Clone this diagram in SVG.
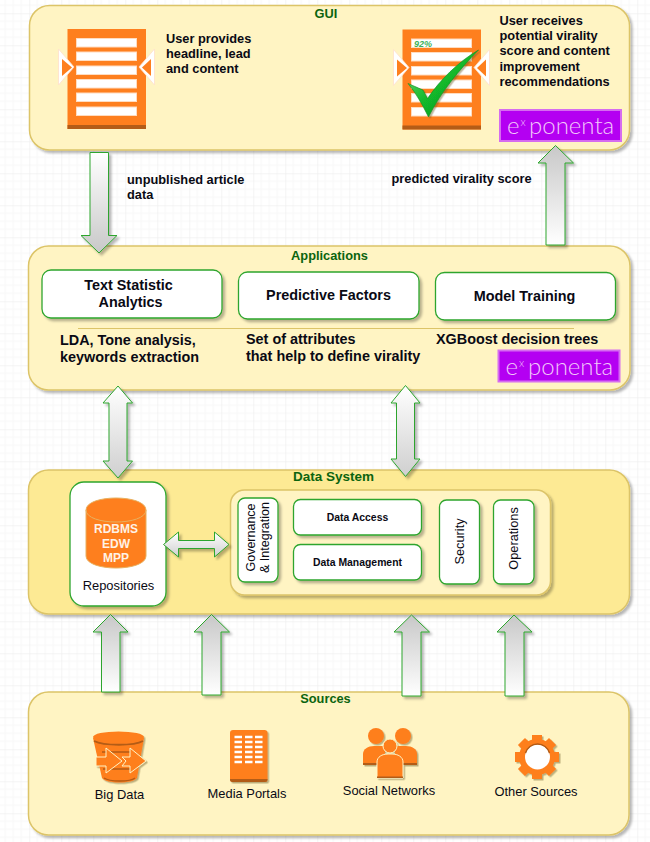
<svg xmlns="http://www.w3.org/2000/svg" xmlns:xlink="http://www.w3.org/1999/xlink" width="650" height="842" viewBox="0 0 650 842">
<style>
text{font-family:"Liberation Sans",Arial,sans-serif;fill:#0a0a14}
.title{font-size:12.8px;font-weight:bold;fill:#0b640f;text-anchor:middle}
.b12{font-size:12.8px;font-weight:bold}
.b14{font-size:14.4px;font-weight:bold}
.b10{font-size:10.4px;font-weight:bold;text-anchor:middle}
.c{text-anchor:middle}
.n13{font-size:12.9px;text-anchor:middle}
.panel{stroke:#dcc468;stroke-width:1.5;filter:url(#sh)}
.box{fill:#fff;stroke:#2ea52e;stroke-width:1.3;filter:url(#sh)}
.dn{fill:url(#gd);stroke:#2ea52e;stroke-width:1;filter:url(#sh)}
.up{fill:url(#gu);stroke:#2ea52e;stroke-width:1;filter:url(#sh)}
.h{fill:url(#gh);stroke:#2ea52e;stroke-width:1;filter:url(#sh)}
.bar{fill:#fff;stroke:#ffdcc0;stroke-width:1}
.or{fill:#fe7f1e}
.dk{fill:#b35c17}
.logo{fill:#b400f2;stroke:#d66cf0;stroke-width:2}
.lt{font-family:Lato,"Liberation Sans",sans-serif;font-weight:300;fill:#f2c8fa}
</style>
<defs>
<pattern id="grid" width="32" height="32" patternUnits="userSpaceOnUse" x="-2.7" y="13.3">
<path d="M8 0V32M16 0V32M24 0V32M0 8H32M0 16H32M0 24H32" stroke="#f7f7f7" stroke-width="1" fill="none"/>
<path d="M0 0V32M0 0H32" stroke="#e9e9e9" stroke-width="1" fill="none"/>
</pattern>
<filter id="sh" x="-10%" y="-10%" width="125%" height="125%"><feDropShadow dx="2.5" dy="2.5" stdDeviation="0.8" flood-color="#000" flood-opacity="0.28"/></filter>
<filter id="sh2" x="-10%" y="-10%" width="125%" height="125%"><feDropShadow dx="1.5" dy="1.5" stdDeviation="0.6" flood-color="#6b5a20" flood-opacity="0.45"/></filter>
<linearGradient id="gd" x1="0" y1="0" x2="0" y2="1"><stop offset="0" stop-color="#fff"/><stop offset="1" stop-color="#c8c8c8"/></linearGradient>
<linearGradient id="gu" x1="0" y1="1" x2="0" y2="0"><stop offset="0" stop-color="#fff"/><stop offset="1" stop-color="#c8c8c8"/></linearGradient>
<linearGradient id="gh" x1="0" y1="0" x2="0" y2="1"><stop offset="0" stop-color="#fff"/><stop offset="1" stop-color="#cfcfcf"/></linearGradient>
<linearGradient id="gc" x1="0" y1="0" x2="1" y2="1"><stop offset="0" stop-color="#7fe07f"/><stop offset="0.5" stop-color="#12b82a"/><stop offset="1" stop-color="#0a8a20"/></linearGradient>
<g id="doc">
<rect class="or" x="67.5" y="29" width="78.5" height="100"/>
<rect class="dk" x="67.5" y="125" width="78.5" height="4"/>
<rect class="bar" x="76.5" y="38.5" width="60" height="8.5"/>
<rect class="bar" x="76.5" y="52" width="60" height="8.5"/>
<rect class="bar" x="76.5" y="66" width="60" height="8.5"/>
<rect class="bar" x="76.5" y="79.5" width="60" height="8.5"/>
<rect class="bar" x="76.5" y="93" width="60" height="8.5"/>
<rect class="bar" x="76.5" y="107" width="60" height="8.5"/>
<path d="M58.5 49L74 67L58.5 85Z" fill="#fff" stroke="#ffe0cc" stroke-width="0.8"/>
<path d="M62 59V76L72 67.5Z" class="or"/>
<path d="M154.500 49L139 67L154.500 85Z" fill="#fff" stroke="#ffe0cc" stroke-width="0.8"/>
<path d="M151 59V76L142 67.500Z" class="or"/>
</g>
<g id="tooth"><rect class="or" x="532" y="735" width="10" height="8"/></g>
</defs>
<rect width="650" height="842" fill="#fff"/>
<rect width="650" height="842" fill="url(#grid)"/>

<g id="gui">
<rect class="panel" x="29.500" y="5.500" width="600" height="144.500" rx="20" fill="#fff4c3"/>
<text class="title" x="326" y="17.500">GUI</text>
<use xlink:href="#doc" href="#doc"/>
<text class="b12" x="166" y="43">User provides</text>
<text class="b12" x="166" y="58">headline, lead</text>
<text class="b12" x="166" y="73">and content</text>
<use xlink:href="#doc" href="#doc" x="335" y="0.500"/>
<text x="414" y="46.500" font-size="9" font-style="italic" font-weight="bold" style="fill:#3cb35a">92%</text>
<path d="M408 83.500L423 90L427.500 98.500C440 80 458 62 478.500 50C459 70 441 92 428.500 117C422 104 416 93 408 83.500Z" fill="url(#gc)" stroke="#0d8c22" stroke-width="0.6" filter="url(#sh2)"/>
<text class="b12" x="499.500" y="25">User receives</text>
<text class="b12" x="499.500" y="40">potential virality</text>
<text class="b12" x="499.500" y="55">score and content</text>
<text class="b12" x="499.500" y="71">improvement</text>
<text class="b12" x="499.500" y="86">recommendations</text>
<rect class="logo" x="500" y="110" width="121" height="31"/>
<text class="lt" x="507" y="134" font-size="24">e</text><text class="lt" x="520.500" y="126" font-size="11">x</text><text class="lt" x="529" y="134" font-size="24">ponenta</text>
</g>

<g id="applications">
<rect class="panel" x="28.500" y="246" width="601.500" height="144" rx="20" fill="#fff4c3"/>
<text class="title" x="329.500" y="259.500">Applications</text>
<rect class="box" x="42" y="270" width="180" height="48" rx="9"/>
<text class="b14 c" x="128.500" y="290">Text Statistic</text>
<text class="b14 c" x="130.500" y="307">Analytics</text>
<rect class="box" x="238.500" y="272" width="180.500" height="47" rx="9"/>
<text class="b14 c" x="328.500" y="300">Predictive Factors</text>
<rect class="box" x="435.500" y="272.500" width="180" height="47.500" rx="9"/>
<text class="b14 c" x="524.500" y="301">Model Training</text>
<path d="M78 328.500H574" stroke="#dcc468" stroke-width="1.200" fill="none"/>
<text class="b14" x="60" y="345">LDA, Tone analysis,</text>
<text class="b14" x="60" y="362">keywords extraction</text>
<text class="b14" x="246" y="344">Set of attributes</text>
<text class="b14" x="246" y="361">that help to define virality</text>
<text class="b14" x="436" y="344">XGBoost decision trees</text>
<rect class="logo" x="498.500" y="350.500" width="121" height="31"/>
<text class="lt" x="505.500" y="375" font-size="24">e</text><text class="lt" x="519" y="367" font-size="11">x</text><text class="lt" x="528" y="375" font-size="24">ponenta</text>
</g>

<g id="data-system">
<rect class="panel" x="28.500" y="470" width="601" height="144" rx="20" fill="#fdea94"/>
<text class="title" x="333.500" y="481" style="font-size:13.500px">Data System</text>
<g id="repositories">
<rect class="box" x="70" y="482" width="96" height="124" rx="14"/>
<path d="M86 510C86 494 146 494 146 510V556C146 572 86 572 86 556Z" fill="#fe7f1e" stroke="#e8b060" stroke-width="1"/>
<path d="M86 510C86 526 146 526 146 510" fill="none" stroke="#e8b060" stroke-width="1"/>
<text class="c" x="116" y="533" font-size="12" font-weight="bold" style="fill:#fff2e6">RDBMS</text>
<text class="c" x="116" y="548" font-size="12" font-weight="bold" style="fill:#fff2e6">EDW</text>
<text class="c" x="116" y="562" font-size="12" font-weight="bold" style="fill:#fff2e6">MPP</text>
<text class="n13" x="118.500" y="590">Repositories</text>
</g>
<g id="platform">
<rect class="panel" x="230.500" y="490" width="320" height="105" rx="14" fill="#fff4c3"/>
<rect class="box" x="238" y="498" width="40" height="84" rx="7"/>
<text class="c" font-size="12.500" transform="translate(254.500 537.500) rotate(-90)">Governance</text>
<text class="c" font-size="12.500" transform="translate(269 537.500) rotate(-90)">&amp; Integration</text>
<rect class="box" x="293.500" y="499.500" width="128" height="35.500" rx="7"/>
<text class="b10" x="357.500" y="521">Data Access</text>
<rect class="box" x="293.500" y="544.500" width="128" height="35.500" rx="7"/>
<text class="b10" x="357.500" y="566">Data Management</text>
<rect class="box" x="439.500" y="500" width="40" height="84" rx="7"/>
<text class="c" font-size="12.800" transform="translate(464 541.500) rotate(-90)">Security</text>
<rect class="box" x="493.500" y="500" width="40.500" height="84" rx="7"/>
<text class="c" font-size="12.800" transform="translate(518 538.500) rotate(-90)">Operations</text>
</g>
</g>

<g id="sources">
<rect class="panel" x="28.500" y="692" width="600.500" height="143" rx="20" fill="#fff4c3"/>
<text class="title" x="325.500" y="702.500">Sources</text>
<g id="big-data" filter="url(#sh2)">
<path d="M93 738L102 778C106 784 133 784 137 778L144 738Z" class="or"/>
<ellipse cx="118.500" cy="737" rx="25.500" ry="5.500" class="or"/>
<path d="M94 741C104 746 134 746 143 741" fill="none" stroke="#b35c17" stroke-width="1.800"/>
<path d="M102 752H132M103 769H134M104 778C110 782 130 782 135 778" stroke="#b35c17" stroke-width="1.400" fill="none"/>
<path d="M96 757H106V748L122 761L106 773V766H96Z" class="or" stroke="#fff4c3" stroke-width="1"/>
<path d="M122 757H130V748L146 761L130 773V766H122L126 761Z" class="or" stroke="#fff4c3" stroke-width="1"/>
</g>
<text class="n13" x="119.500" y="799">Big Data</text>
<g id="media-portals" filter="url(#sh2)">
<rect class="or" x="230" y="730" width="37.500" height="52" rx="3"/>
<path d="M230 779H267.500V779.500A2.500 2.500 0 0 1 265 782H232.500A2.500 2.500 0 0 1 230 779.500Z" class="dk"/>
<path d="M234.500 737H242M245 737H252.500M255 737H262.500M234.500 742H242M245 742H252.500M255 742H262.500M234.500 747H242M245 747H252.500M255 747H262.500M234.500 752H242M245 752H252.500M255 752H262.500M234.500 757H242M245 757H252.500M255 757H262.500M234.500 762H242M245 762H252.500M255 762H262.500" stroke="#fff" stroke-width="2.500" fill="none"/>
</g>
<text class="n13" x="247" y="798">Media Portals</text>
<g id="social-networks" filter="url(#sh2)">
<circle class="or" cx="376" cy="736" r="8"/>
<circle class="or" cx="403" cy="736" r="8"/>
<path d="M363 765V754C363 749 368 746 374 746H385V765Z" class="or"/>
<path d="M417 765V754C417 749 412 746 406 746H395V765Z" class="or"/>
<path d="M363 763H417V765H363Z" class="dk"/>
<path d="M377 778V762C377 757 382 754 388 754H392C398 754 403 757 403 762V778Z" class="or" stroke="#fff4c3" stroke-width="1"/>
<circle class="or" cx="390" cy="746" r="7" stroke="#fff4c3" stroke-width="1"/>
<path d="M377 776.500H403V778H377Z" class="dk"/>
</g>
<text class="n13" x="389" y="795">Social Networks</text>
<g id="other-sources" filter="url(#sh2)">
<use xlink:href="#tooth" href="#tooth"/>
<use xlink:href="#tooth" href="#tooth" transform="rotate(45 537 757)"/>
<use xlink:href="#tooth" href="#tooth" transform="rotate(90 537 757)"/>
<use xlink:href="#tooth" href="#tooth" transform="rotate(135 537 757)"/>
<use xlink:href="#tooth" href="#tooth" transform="rotate(180 537 757)"/>
<use xlink:href="#tooth" href="#tooth" transform="rotate(225 537 757)"/>
<use xlink:href="#tooth" href="#tooth" transform="rotate(270 537 757)"/>
<use xlink:href="#tooth" href="#tooth" transform="rotate(315 537 757)"/>
<circle class="or" cx="537" cy="757" r="18"/>
<circle cx="537.500" cy="757" r="12.500" fill="#fff"/>
<path d="M525.500 753A12.500 12.500 0 0 1 549.500 753" fill="none" stroke="#b35c17" stroke-width="1.500"/>
</g>
<text class="n13" x="536" y="796">Other Sources</text>
</g>

<g id="connectors">
<path class="dn" d="M90 152.500H108.500V235.500H117L99 253L81 235.500H90Z"/>
<path class="up" d="M546 245V163H538L555.500 145.500L573.500 163H565V245Z"/>
<path class="h" d="M118 386L132.500 403H127V461H132.500L118 478L103 461H109V403H103Z"/>
<path class="h" d="M405.500 385.500L420 403H414.500V459H420L405.500 476.500L391 459H396.500V403H391Z"/>
<path class="h" d="M163.500 544.500L178.500 532V540.500H214.500V532L229 544.500L214.500 557V548.500H178.500V557Z"/>
<path class="up" d="M101.500 692V632H93L110.500 614.500L128 632H120V692Z"/>
<path class="up" d="M202 695V632H194L211.500 614.500L229.500 632H221V695Z"/>
<path class="up" d="M402 696V632H394L411.500 615L429.500 632H421V696Z"/>
<path class="up" d="M505 696V632H497L514 615L532 632H524V696Z"/>
</g>

<g id="edge-labels">
<text class="b12" x="127" y="184">unpublished article</text>
<text class="b12" x="127" y="199">data</text>
<text class="b12" x="391.500" y="183">predicted virality score</text>
</g>
</svg>
